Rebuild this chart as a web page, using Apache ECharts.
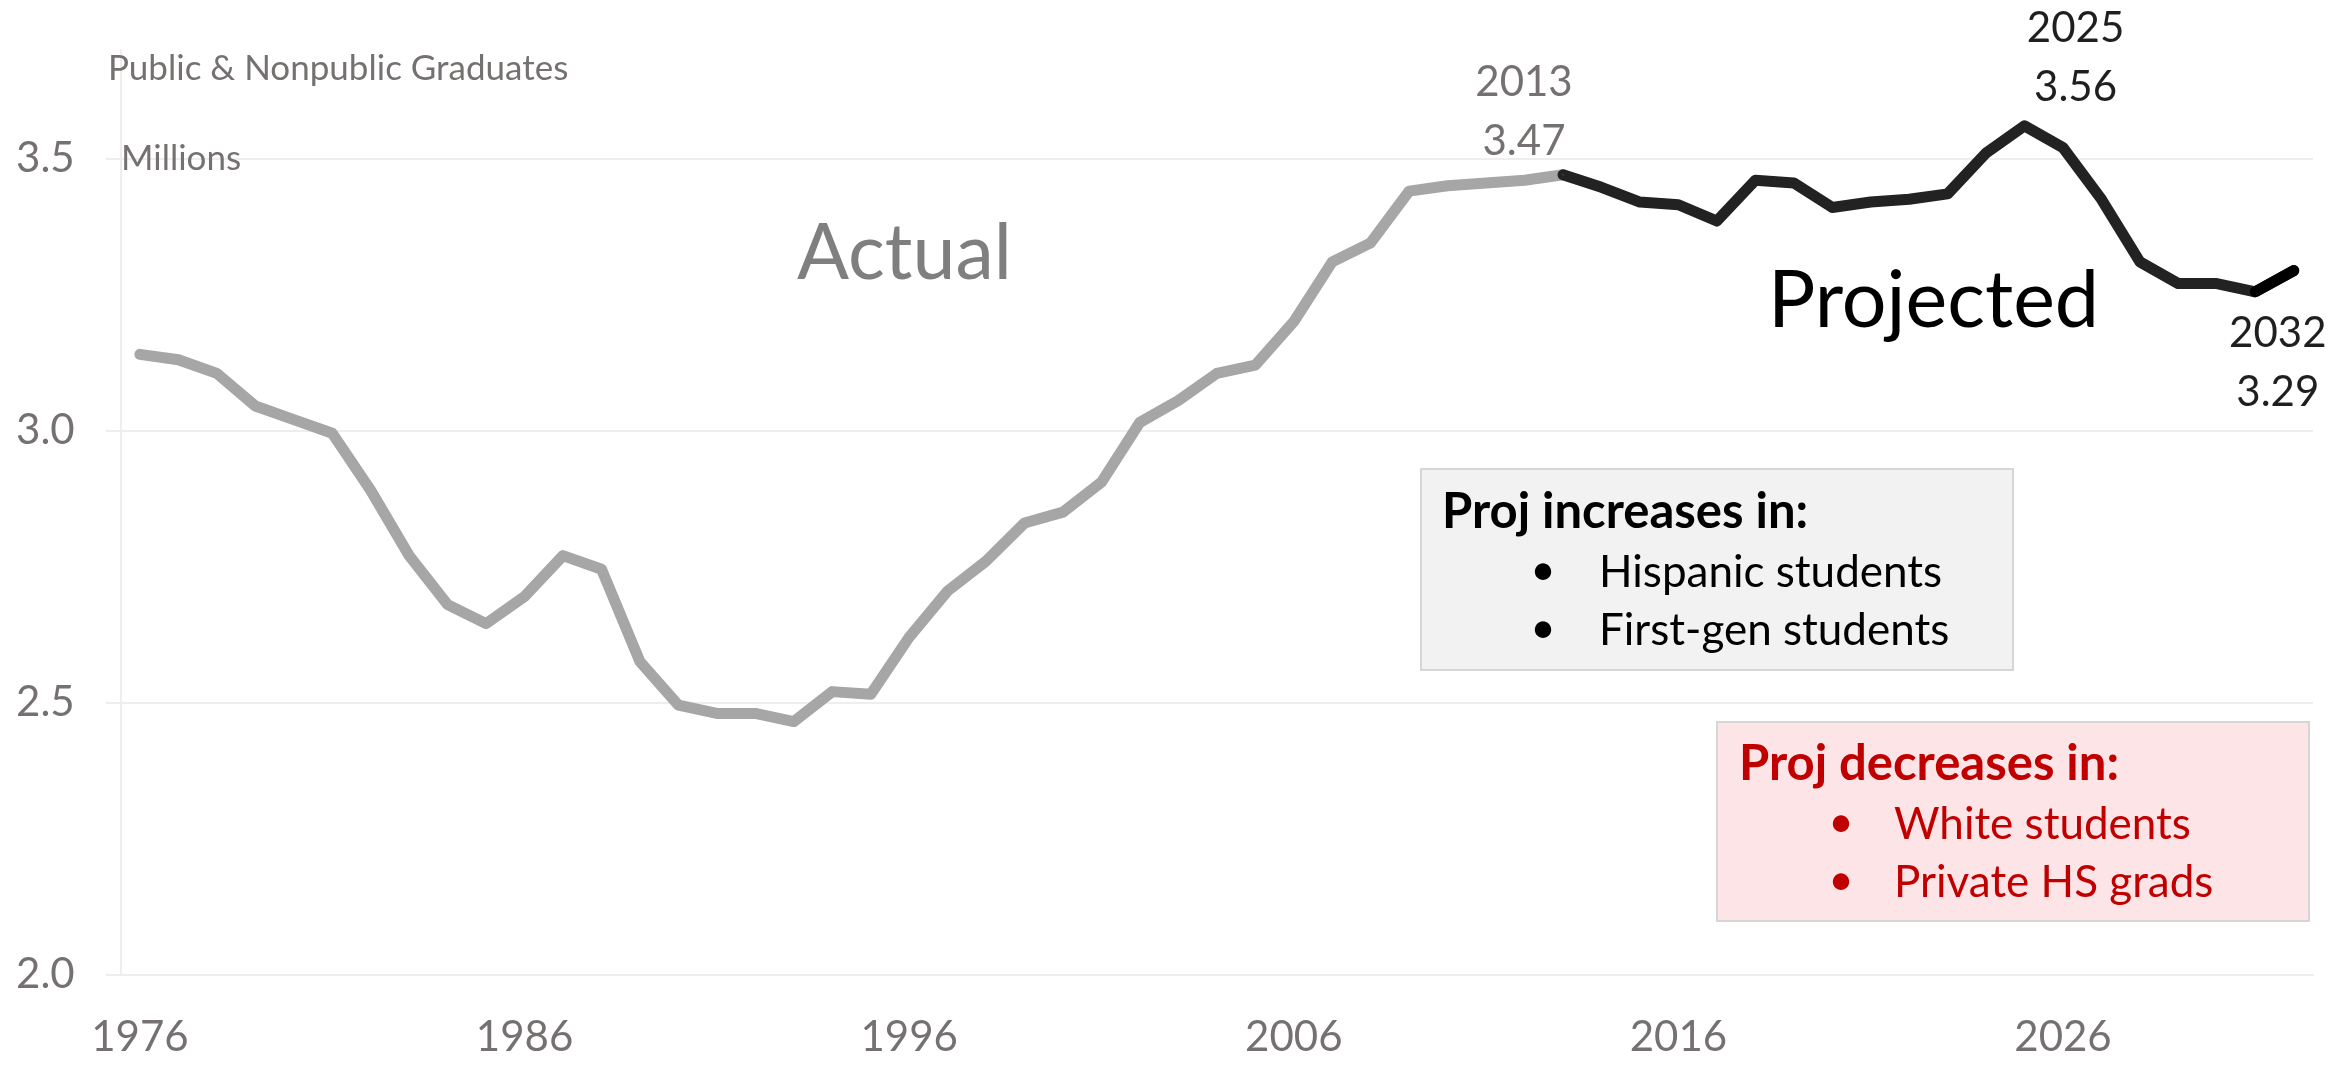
<!DOCTYPE html>
<html>
<head>
<meta charset="utf-8">
<script src="https://cdn.jsdelivr.net/npm/echarts@6/dist/echarts.min.js"></script>
<style>
html,body{margin:0;padding:0;background:#ffffff;}
#chart{width:2344px;height:1067px;}
</style>
</head>
<body>
<div id="chart"></div>
<script>
// ---------------- DATA ----------------
const years = ['1976','1977','1978','1979','1980','1981','1982','1983','1984','1985',
  '1986','1987','1988','1989','1990','1991','1992','1993','1994','1995',
  '1996','1997','1998','1999','2000','2001','2002','2003','2004','2005',
  '2006','2007','2008','2009','2010','2011','2012','2013','2014','2015',
  '2016','2017','2018','2019','2020','2021','2022','2023','2024','2025',
  '2026','2027','2028','2029','2030','2031','2032'];

// Actual graduates (millions), 1976-2013
const actualValues = [3.14, 3.13, 3.105, 3.045, 3.02, 2.995, 2.89, 2.77, 2.68, 2.645,
  2.695, 2.77, 2.745, 2.575, 2.495, 2.48, 2.48, 2.465, 2.52, 2.515,
  2.62, 2.705, 2.76, 2.83, 2.85, 2.905, 3.015, 3.055, 3.105, 3.12,
  3.20, 3.31, 3.345, 3.44, 3.45, 3.455, 3.46, 3.47];

// Projected graduates (millions), 2013-2032
const projectedValues = [3.47, 3.447, 3.42, 3.415, 3.385, 3.46, 3.455, 3.41, 3.42, 3.425,
  3.435, 3.51, 3.56, 3.52, 3.425, 3.31, 3.27, 3.27, 3.255, 3.294];

const yTickValues = [2.0, 2.5, 3.0, 3.5];
const xTickLabels = ['1976','1986','1996','2006','2016','2026'];
const labelledYears = ['2013','2025','2032'];

// ---------------- BUILD ----------------
const FONT = 'Lato';
const TXT_GRAY = '#767171';
const GRID = '#eeeeee';

const projStart = years.indexOf('2013');
const lastSegStart = years.indexOf('2031');

function labelFmt(p) { return p.name + '\n' + Number(p.value).toFixed(2); }
const labelBase = { show: true, fontFamily: FONT, fontSize: 42, lineHeight: 59, formatter: labelFmt };

const actualData = years.map((y, i) => i < actualValues.length ? actualValues[i] : null);
const projectedData = years.map((y, i) => i >= projStart ? projectedValues[i - projStart] : null);
const lastSegData = years.map((y, i) => i >= lastSegStart ? projectedValues[i - projStart] : null);

const i2013 = years.indexOf(labelledYears[0]);
const i2025 = years.indexOf(labelledYears[1]);
const i2032 = years.indexOf(labelledYears[2]);

actualData[i2013] = { value: actualData[i2013],
  label: Object.assign({}, labelBase, { position: 'top', distance: 3, offset: [-39, 0], color: TXT_GRAY }) };
projectedData[i2025] = { value: projectedData[i2025],
  label: Object.assign({}, labelBase, { position: 'top', distance: 8, offset: [51, 0], color: '#1f1f1f' }) };
lastSegData[i2032] = { value: lastSegData[i2032],
  label: Object.assign({}, labelBase, { position: 'bottom', distance: 33, offset: [-16, 0], color: '#1f1f1f' }) };

function lineSeries(name, data, color) {
  return {
    name: name, type: 'line', data: data,
    symbol: 'circle', symbolSize: 1, showSymbol: true,
    itemStyle: { color: color },
    lineStyle: { color: color, width: 11, cap: 'round', join: 'round' },
    connectNulls: false, silent: true, z: 3
  };
}

function txt(x, y, text, font, fill, align) {
  return { type: 'text', x: x, y: y, silent: true, z: 100,
    style: { text: text, font: font, fill: fill, align: align || 'left', verticalAlign: 'middle' } };
}

const chart = echarts.init(document.getElementById('chart'), null, { renderer: 'canvas' });

const option = {
  animation: false,
  backgroundColor: '#ffffff',
  grid: { left: 120.7, right: 31, top: 49.7, bottom: 92.5, containLabel: false },
  xAxis: {
    type: 'category',
    data: years,
    boundaryGap: true,
    axisLine: { show: true, lineStyle: { color: GRID, width: 2 } },
    axisTick: { show: false },
    axisLabel: {
      interval: (idx, val) => xTickLabels.indexOf(val) >= 0,
      fontFamily: FONT, fontSize: 42, color: TXT_GRAY, margin: 42
    },
    splitLine: { show: false }
  },
  yAxis: {
    type: 'value',
    min: 2.0, max: 3.7, interval: 0.5,
    axisLine: { show: true, lineStyle: { color: GRID, width: 2 } },
    axisTick: { show: true, length: 15, customValues: yTickValues, lineStyle: { color: GRID, width: 2 } },
    axisLabel: {
      customValues: yTickValues,
      formatter: v => Number(v).toFixed(1),
      fontFamily: FONT, fontSize: 42, color: TXT_GRAY, margin: 46
    },
    splitLine: { show: true, lineStyle: { color: [GRID, GRID, GRID, GRID, 'rgba(0,0,0,0)'], width: 2 } }
  },
  series: [
    lineSeries('Actual', actualData, '#a6a6a6'),
    lineSeries('Projected', projectedData, '#222222'),
    lineSeries('Projected latest', lastSegData, '#000000')
  ],
  graphic: [
    txt(108, 68.5, 'Public & Nonpublic Graduates', '35px Lato', TXT_GRAY),
    txt(121, 158.5, 'Millions', '35px Lato', TXT_GRAY),
    txt(797, 254, 'Actual', '77px Lato', '#7f7f7f'),
    txt(1768, 301.5, 'Projected', '79px Lato', '#000000'),

    { type: 'rect', silent: true, z: 90, shape: { x: 1421, y: 469, width: 592, height: 201 },
      style: { fill: '#f2f2f2', stroke: '#d6d6d6', lineWidth: 2 } },
    txt(1442, 512.5, 'Proj increases in:', 'bold 49px Lato', '#000000'),
    txt(1543, 571, '•', '44px Lato', '#000000', 'center'),
    txt(1599, 572.6, 'Hispanic students', '44px Lato', '#000000'),
    txt(1543, 629, '•', '44px Lato', '#000000', 'center'),
    txt(1599, 630.5, 'First-gen students', '44px Lato', '#000000'),

    { type: 'rect', silent: true, z: 90, shape: { x: 1717, y: 722, width: 592, height: 199 },
      style: { fill: '#fde4e6', stroke: '#d6d6d6', lineWidth: 2 } },
    txt(1739, 764.5, 'Proj decreases in:', 'bold 49px Lato', '#c00000'),
    txt(1841, 823, '•', '44px Lato', '#c00000', 'center'),
    txt(1894, 825, 'White students', '44px Lato', '#c00000'),
    txt(1841, 881, '•', '44px Lato', '#c00000', 'center'),
    txt(1894, 882.6, 'Private HS grads', '44px Lato', '#c00000')
  ]
};

chart.setOption(option);
</script>
</body>
</html>
